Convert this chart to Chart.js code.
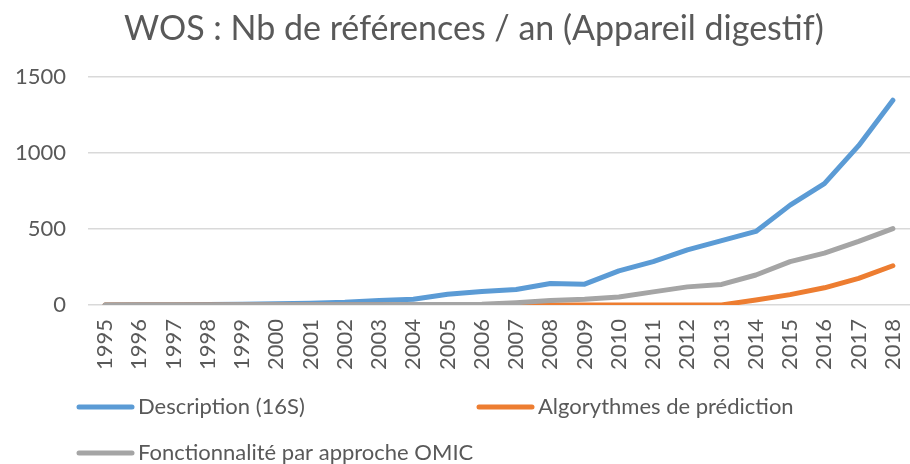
<!DOCTYPE html>
<html>
<head>
<meta charset="utf-8">
<script src="https://cdn.jsdelivr.net/npm/chart.js@4/dist/chart.umd.min.js"></script>
<style>
    html, body { margin: 0; padding: 0; background: #fff; }
    #wrap { width: 910px; height: 464px; }
</style>
</head>
<body>
<div id="wrap"><canvas id="chart"></canvas></div>
<script>
// data
const years = ['1995', '1996', '1997', '1998', '1999', '2000', '2001', '2002', '2003', '2004', '2005', '2006',
    '2007', '2008', '2009', '2010', '2011', '2012', '2013', '2014', '2015', '2016', '2017', '2018'];
const description16S = [0, 1, 1, 3, 5, 8, 12, 18, 30, 38, 70, 88, 102, 141, 137, 224, 285, 363, 423, 484, 657, 798, 1048, 1347];
const algorythmes = [0, 0, 0, 0, 0, 0, 0, 0, 0, 0, 0, 0, 0, 0, 0, 0, 0, 0, 0, 33, 68, 113, 175, 258];
const fonctionnalite = [0, 0, 0, 0, 1, 1, 1, 2, 2, 3, 3, 5, 15, 29, 38, 53, 86, 119, 135, 197, 285, 341, 418, 502];
const yTicks = [0, 500, 1000, 1500];
const chartTitle = 'WOS : Nb de références / an (Appareil digestif)';

const textColor = '#595959';
const fontFamily = 'Lato, "Noto Sans", sans-serif';

// Excel-style title and legend, drawn where Excel puts them
const excelDecor = {
    id: 'excelDecor',
    afterDraw(chart) {
        const ctx = chart.ctx;
        ctx.save();

        ctx.font = '34px ' + fontFamily;
        ctx.fillStyle = textColor;
        ctx.textAlign = 'center';
        ctx.textBaseline = 'middle';
        ctx.fillText(chartTitle, 474, 29);

        const slots = [
            { x: 79, y: 407 },
            { x: 479, y: 407 },
            { x: 79, y: 453 }
        ];
        ctx.font = '22px ' + fontFamily;
        ctx.textAlign = 'left';
        chart.data.datasets.forEach((ds, i) => {
            const s = slots[i];
            ctx.strokeStyle = ds.borderColor;
            ctx.lineWidth = 5;
            ctx.lineCap = 'round';
            ctx.beginPath();
            ctx.moveTo(s.x, s.y);
            ctx.lineTo(s.x + 53, s.y);
            ctx.stroke();
            ctx.fillStyle = textColor;
            ctx.fillText(ds.label, s.x + 59, s.y);
        });
        ctx.restore();
    }
};

function makeSeries(label, data, color, order) {
    return {
        label: label,
        data: data,
        borderColor: color,
        backgroundColor: color,
        borderWidth: 5,
        borderCapStyle: 'round',
        borderJoinStyle: 'round',
        pointRadius: 0,
        tension: 0,
        order: order
    };
}

new Chart(document.getElementById('chart'), {
    type: 'line',
    data: {
        labels: years,
        datasets: [
            makeSeries('Description (16S)', description16S, '#5b9bd5', 2),
            makeSeries('Algorythmes de prédiction', algorythmes, '#ed7d31', 1),
            makeSeries('Fonctionnalité par approche OMIC', fonctionnalite, '#a5a5a5', 0)
        ]
    },
    options: {
        responsive: true,
        maintainAspectRatio: false,
        animation: false,
        layout: { padding: { left: 10, right: 0, top: 77, bottom: 80 } },
        scales: {
            x: {
                offset: true,
                afterFit(axis) {
                    // let the plot run to the right edge like the Excel chart
                    axis.paddingRight = 0;
                },
                grid: { display: false, drawTicks: false },
                border: { display: false },
                ticks: {
                    color: textColor,
                    font: { family: fontFamily, size: 22 },
                    minRotation: 90,
                    maxRotation: 90,
                    autoSkip: false,
                    padding: 14
                }
            },
            y: {
                min: 0,
                max: 1500,
                afterBuildTicks(axis) {
                    axis.ticks = yTicks.map(v => ({ value: v }));
                },
                afterFit(axis) {
                    axis.width = 78;
                },
                grid: { color: '#d9d9d9', lineWidth: 1.5, drawTicks: false },
                border: { display: false },
                ticks: {
                    color: textColor,
                    font: { family: fontFamily, size: 22 },
                    padding: 22,
                    callback: v => String(v)
                }
            }
        },
        plugins: {
            legend: { display: false },
            tooltip: { enabled: false },
            title: { display: false }
        }
    },
    plugins: [excelDecor]
});
</script>
</body>
</html>
